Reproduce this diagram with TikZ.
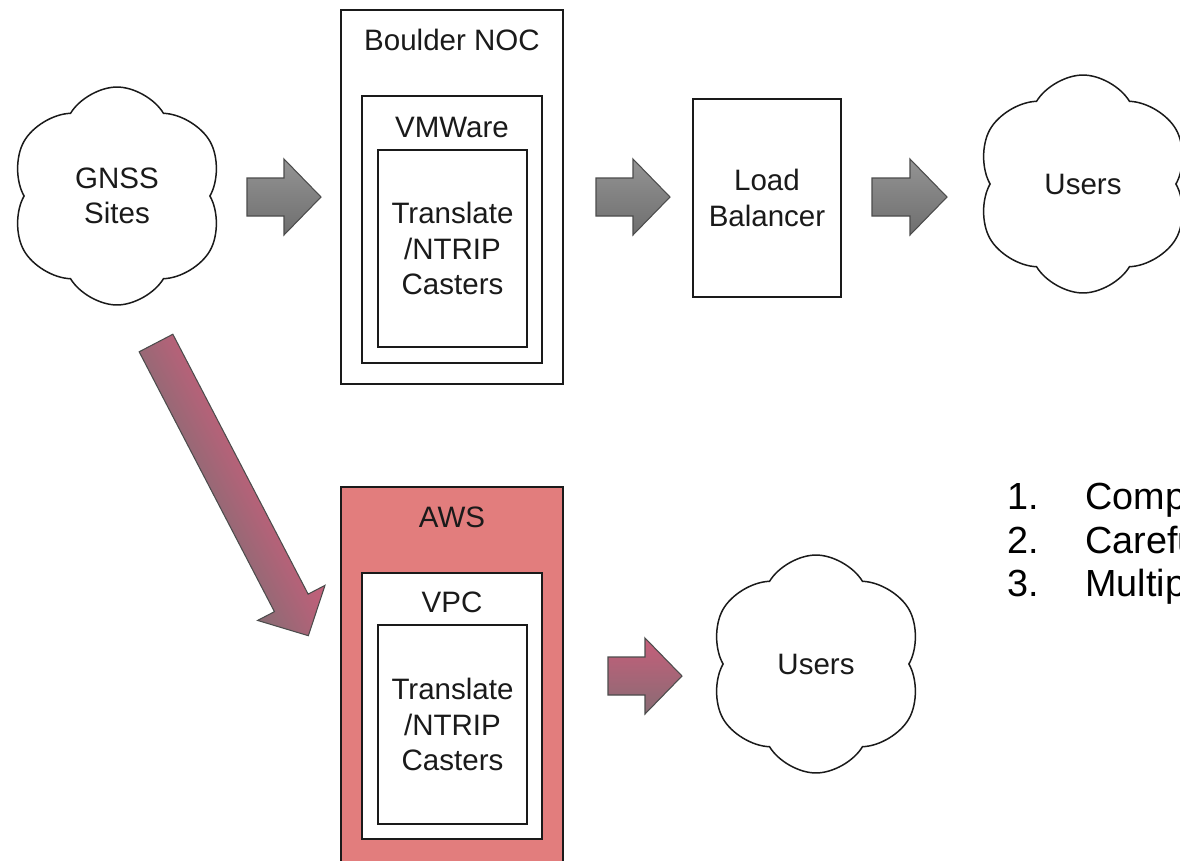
\documentclass[tikz,border=0pt]{standalone}
\usepackage{fontspec}
\setmainfont{Liberation Sans}
\usetikzlibrary{shapes.symbols,positioning}
\definecolor{ink}{HTML}{1A1A1A}
\definecolor{awsred}{HTML}{E27D7D}
\definecolor{greyA}{HTML}{949494}
\definecolor{greyB}{HTML}{6E6E6E}
\definecolor{pinkA}{HTML}{C65E7A}
\definecolor{pinkB}{HTML}{886C74}
\tikzset{box/.style={draw=ink,line width=0.85pt,fill=white,align=center,text=ink,inner sep=0pt,font=\fontsize{16.8}{20}\selectfont},
lbl/.style={text=ink,inner sep=0pt,font=\fontsize{16.8}{20}\selectfont},
cloudnode/.style={cloud,cloud puffs=6,cloud puff arc=118,aspect=1,draw=ink,line width=0.85pt,fill=white,align=center,text=ink,inner sep=0pt,minimum width=4.3cm,minimum height=4.36cm,font=\fontsize{16.8}{20}\selectfont},
listtxt/.style={text=black,inner sep=0pt,anchor=base west,font=\fontsize{21.5}{26}\selectfont},
greyarr/.style={draw=black!70,line width=0.6pt,top color=greyA,bottom color=greyB},
pinkarr/.style={draw=black!70,line width=0.6pt,top color=pinkA,bottom color=pinkB}}
% block arrow: style, start point, angle, length
\newcommand{\blockarrow}[4]{\draw[#1,transform canvas={shift={#2},rotate=#3}] (0,-19) -- ({#4-37},-19) -- ({#4-37},-38) -- (#4,0) -- ({#4-37},38) -- ({#4-37},19) -- (0,19) -- cycle;}

\begin{document}
\begin{tikzpicture}[x=0.02cm,y=-0.02cm]
\useasboundingbox (0,0) rectangle (1180,860);
\clip (0,0) rectangle (1180,860);
% top row
\node[cloudnode] (gnss) at (117,196) {GNSS\\Sites};
\node[box,minimum width=4.44cm,minimum height=7.48cm] (noc) at (452,197) {};
\node[lbl] (noclbl) at (452,40) {Boulder NOC};
\node[box,minimum width=3.6cm,minimum height=5.34cm] (vmw) at (452,229.5) {};
\node[lbl] (vmwlbl) at (452,127) {VMWare};
\node[box,minimum width=2.98cm,minimum height=3.94cm] (caster) at (452.5,248.5) {Translate\\/NTRIP\\Casters};
\node[box,minimum width=2.96cm,minimum height=3.96cm] (lb) at (767,198) {Load\\Balancer};
\node[cloudnode] (users) at (1083,184) {Users};
\blockarrow{greyarr}{(247,197)}{0}{74}
\blockarrow{greyarr}{(596,197)}{0}{74}
\blockarrow{greyarr}{(872,197)}{0}{75}
% bottom row
\node[box,fill=awsred,minimum width=4.44cm,minimum height=8.06cm] (aws) at (452,688.5) {};
\node[lbl] (awslbl) at (452,517) {AWS};
\node[box,minimum width=3.6cm,minimum height=5.32cm] (vpc) at (452,706) {};
\node[lbl] (vpclbl) at (452,602) {VPC};
\node[box,minimum width=2.98cm,minimum height=3.98cm] (caster2) at (452.5,724.5) {Translate\\/NTRIP\\Casters};
\node[cloudnode] (users2) at (816,664) {Users};
\blockarrow{pinkarr}{(608,676)}{0}{74}
\blockarrow{pinkarr}{(156,343)}{-62.5}{330}
% notes
\foreach \n/\t [count=\i] in {1./Comp,2./Carefu,3./Multip}{
  \node[listtxt] (num\i) at (1007,{509.5+43.5*(\i-1)}) {\n};
  \node[listtxt] (item\i) at (1085,{509.5+43.5*(\i-1)}) {\t};
}
\end{tikzpicture}
\end{document}
